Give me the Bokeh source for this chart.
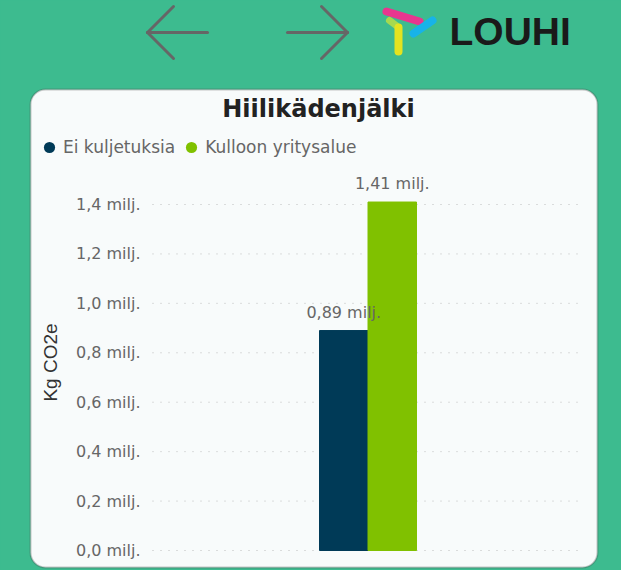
from bokeh.plotting import figure
from bokeh.models import (ColumnDataSource, Range1d, FixedTicker,
                          CustomJSTickFormatter, LabelSet, Label, Legend, LegendItem,
                          BoxAnnotation, Arrow, GlobalInlineStyleSheet)
from bokeh.transform import dodge
from bokeh.core.properties import value
from bokeh.embed import file_html
from bokeh.resources import INLINE

# ---- data ----
chart_title = "Hiilikädenjälki"
category = ["Hiilikädenjälki"]
series = ["Ei kuljetuksia", "Kulloon yritysalue"]
values_milj = [0.89, 1.41]
series_colors = ["#003a57", "#80c100"]
y_ticks = [0.0, 0.2, 0.4, 0.6, 0.8, 1.0, 1.2, 1.4]
y_label = "Kg CO2e"
brand = "LOUHI"

GREEN_BG = "#3dbb8f"
CARD_BG = "#f8fbfb"
FONT = "DejaVu Sans"
W, H = 621, 570

# pixel geometry of the plotting area inside the canvas
PLOT_L, PLOT_R = 152, 583          # x of category band edges
ZERO_Y, TOP_TICK_Y = 550, 204      # y of value 0 and of the top tick
x_px = PLOT_R - PLOT_L             # px per category
y_px = (ZERO_Y - TOP_TICK_Y) / y_ticks[-1]   # px per million

p = figure(width=W, height=H,
           x_range=Range1d(-PLOT_L / x_px, (W - PLOT_L) / x_px),
           y_range=Range1d(-(H - ZERO_Y) / y_px, ZERO_Y / y_px),
           x_axis_location=None, y_axis_location="left",
           output_backend="svg", toolbar_location=None, min_border=0)
p.stylesheets = [GlobalInlineStyleSheet(css="body { background-color: %s; }" % GREEN_BG)]
p.border_fill_color = GREEN_BG
p.background_fill_color = GREEN_BG
p.outline_line_color = None
p.grid.visible = False

# ---- card ----
p.add_layout(BoxAnnotation(left=30, right=597, top=89, bottom=567,
                           left_units="canvas", right_units="canvas",
                           top_units="canvas", bottom_units="canvas",
                           fill_color=CARD_BG, fill_alpha=1.0,
                           line_color="#4a4a4a", line_width=2,
                           border_radius=15, level="image"))

# ---- dotted value grid across the category band ----
cat_pos = [i + 0.5 for i in range(len(category))]
grid_src = ColumnDataSource(dict(y=y_ticks, x0=[0] * len(y_ticks),
                                 x1=[len(category)] * len(y_ticks)))
p.segment(x0="x0", x1="x1", y0="y", y1="y", source=grid_src,
          line_color="#bdbdbd", line_width=1, line_dash="1 7")

# ---- bars ----
bar_w = 48.5 / x_px
offsets = [-bar_w / 2, bar_w / 2]
legend_items = []
for name, val, col, off in zip(series, values_milj, series_colors, offsets):
    src = ColumnDataSource(dict(x=cat_pos, v=[val],
                                lbl=[("%.2f" % val).replace(".", ",") + " milj."]))
    dot = p.scatter(x=dodge("x", off), y="v", source=src, marker="circle", size=0,
                    fill_color=col, line_color=col, line_width=0)
    p.vbar(x=dodge("x", off), top="v", width=bar_w,
           source=src, fill_color=col, line_color=col)
    p.add_layout(LabelSet(x=dodge("x", off), y="v", text="lbl",
                          source=src, text_align="center", y_offset=9,
                          text_font=value(FONT), text_font_size="16px",
                          text_color="#666666"))
    legend_items.append(LegendItem(label=name, renderers=[dot]))

legend = Legend(items=legend_items, orientation="horizontal",
                location=(35, H - 161), glyph_width=28, glyph_height=28,
                label_standoff=-1, spacing=2, padding=0, margin=0,
                border_line_color=None, background_fill_alpha=0,
                label_text_font=FONT, label_text_font_size="17px",
                label_text_color="#666666")
p.add_layout(legend)

# ---- y axis drawn at the left edge of the category band ----
ax = p.yaxis[0]
ax.fixed_location = 0
ax.bounds = (0, 1.52)
ax.ticker = FixedTicker(ticks=y_ticks)
ax.formatter = CustomJSTickFormatter(
    code="return tick.toFixed(1).replace('.', ',') + ' milj.'")
ax.major_label_text_font = FONT
ax.major_label_text_font_size = "16px"
ax.major_label_text_color = "#666666"
ax.major_label_standoff = 12
ax.major_tick_out = 0
ax.major_tick_in = 0
ax.axis_line_color = None
ax.major_tick_line_color = None
ax.minor_tick_line_color = None
ax.axis_label = y_label
ax.axis_label_text_font = "Liberation Sans"
ax.axis_label_text_font_size = "19px"
ax.axis_label_text_font_style = "normal"
ax.axis_label_text_color = "#333333"
ax.axis_label_standoff = 12

# ---- title ----
p.add_layout(Label(x=318, y=108, x_units="canvas", y_units="canvas",
                   text=chart_title, text_align="center", text_baseline="alphabetic",
                   text_font=FONT, text_font_style="bold", text_font_size="24px",
                   text_color="#222222"))

# ---- header: navigation arrows and logo ----
def seg(x0, y0, x1, y1, color, width):
    p.add_layout(Arrow(end=None, x_start=x0, y_start=y0, x_end=x1, y_end=y1,
                       start_units="canvas", end_units="canvas",
                       line_color=color, line_width=width, line_cap="round"))

ARROW_C = "#666666"
for (x0, y0, x1, y1) in [(147, 32, 207, 32), (147, 32, 173, 6), (147, 32, 173, 58),
                         (287, 32, 347, 32), (347, 32, 321, 6), (347, 32, 321, 58)]:
    seg(x0, y0, x1, y1, ARROW_C, 3)
seg(386, 11, 419, 21, "#e8368f", 8)
seg(413, 33, 432, 20, "#17b3e8", 8)
seg(389, 20, 397, 26, "#a6d94f", 7)
seg(398, 27, 398, 51, "#e4e31f", 8)
p.add_layout(Label(x=449, y=31, x_units="canvas", y_units="canvas",
                   text=brand, text_align="left", text_baseline="alphabetic",
                   text_font="Liberation Sans", text_font_style="bold",
                   text_font_size="39px", text_color="#1a1a1a"))

open("out.html", "w").write(file_html(p, INLINE))
